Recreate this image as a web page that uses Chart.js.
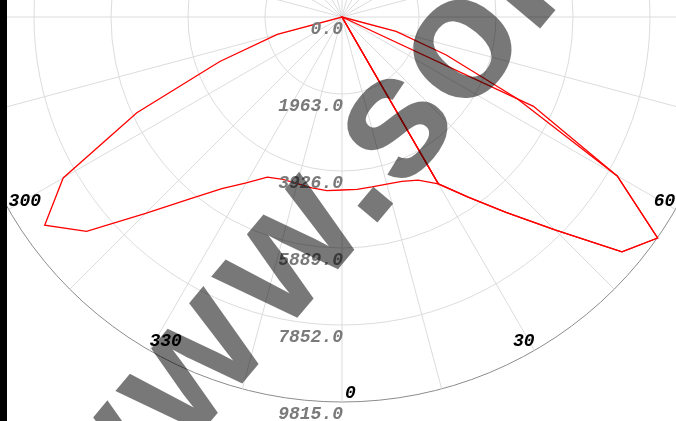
<!DOCTYPE html>
<html>
<head>
<meta charset="utf-8">
<script src="https://cdn.jsdelivr.net/npm/chart.js@4.4.1/dist/chart.umd.min.js"></script>
<style>
html,body{margin:0;padding:0;background:#fff;overflow:hidden;width:676px;height:421px;position:relative;}
#wrap{position:absolute;left:-43px;top:-368px;width:770px;height:830px;}
#edge{position:absolute;left:0;top:0;width:7px;height:421px;background:#000;}
</style>
</head>
<body>
<div id="wrap"><canvas id="c" width="770" height="830"></canvas></div>
<div id="edge"></div>
<script>
// Polar angles (degrees, 0 = straight down, negative = left side / 270..360)
const polarAngles = [-90,-85,-80,-75,-70,-65,-60,-55,-50,-45,-40,-35,-30,-25,-20,-15,-10,-5,0,5,10,15,20,25,30,35,40,45,50,55,60,65,70,75,80,85,90];
// Luminous intensity (cd) per angle
const planeA = [0,0,0,1708,3314,5771,8208,9253,8501,7081,6064,5340,4881,4504,4405,4400,4425,4445,4410,4410,4400,4410,4461,4588,4915,0,0,0,0,0,0,0,0,0,0,0,0];
const planeB = [0,0,0,0,0,0,0,0,0,0,0,0,0,0,0,0,0,0,0,0,0,0,0,0,4915,5608,6505,7678,9317,9822,8101,5386,0,0,0,0,0];
const planeC = [0,0,0,0,0,0,0,0,0,0,0,0,0,0,0,0,0,0,0,0,0,0,0,0,4915,5608,6505,7678,9317,9822,8101,4920,2829,1427,0,0,0];
// Radial tick values and angle tick labels
const ringValues = [0,1963,3926,5889,7852,9815];
const angleTicks = [0,30,60,90,120,150,180,210,240,270,300,330];
const watermarkHead = 'www';
const watermarkTail = '.sol';

const STEP = 5;
const N = 360 / STEP;
// radar index i sits at signed angle -STEP*i (startAngle 180 => index 0 at bottom, going to the left)
const radarLabels = [];
for (let i = 0; i < N; i++) radarLabels.push(String((360 - STEP * i) % 360));
function toRadar(values) {
  const out = [];
  for (let i = 0; i < N; i++) {
    let a = (360 - STEP * i) % 360;
    if (a > 180) a -= 360;
    const k = polarAngles.indexOf(a);
    out.push(k >= 0 ? values[k] : 0);
  }
  return out;
}
function idxOfAngle(a) { return ((360 - a) % 360) / STEP; }

const labelFont = 'italic bold 18px "Liberation Mono", "DejaVu Sans Mono", monospace';

const textPlugin = {
  id: 'polarTexts',
  afterDatasetsDraw(chart) {
    const s = chart.scales.r;
    const ctx = chart.ctx;
    ctx.save();
    ctx.font = labelFont;
    // ring labels
    ctx.fillStyle = '#7a7a7a';
    ctx.textAlign = 'right';
    ctx.textBaseline = 'alphabetic';
    ringValues.forEach(v => {
      const d = s.getDistanceFromCenterForValue(v);
      ctx.fillText(v.toFixed(1), s.xCenter + 1, s.yCenter + d + 17);
    });
    // angle labels
    ctx.fillStyle = '#000';
    angleTicks.forEach(a => {
      const p = s.getPointPosition(idxOfAngle(a), s.drawingArea);
      const signed = a > 180 ? a - 360 : a;
      let x = p.x;
      if (signed > 0 && signed < 180) { ctx.textAlign = 'right'; }
      else { ctx.textAlign = 'left'; if (signed === 0) x += 3; }
      ctx.fillText(String(a), x, p.y - 4);
    });
    ctx.restore();
  },
  afterDraw(chart) {
    const s = chart.scales.r;
    const ctx = chart.ctx;
    ctx.save();
    const fs = 175;
    ctx.font = 'bold ' + fs + 'px "Liberation Sans", Arial, sans-serif';
    ctx.fillStyle = 'rgba(0,0,0,0.53)';
    const dot = ctx.measureText('.').width;
    const ww = ctx.measureText('w').width;
    ctx.translate(s.xCenter + 34, s.yCenter + 188);
    ctx.rotate(-50 * Math.PI / 180);
    ctx.textAlign = 'left';
    ctx.textBaseline = 'alphabetic';
    const base = fs * 0.07;
    ctx.fillText(watermarkTail, -dot / 2, base);
    const gap = 13;
    for (let k = 0; k < watermarkHead.length; k++) {
      ctx.fillText(watermarkHead[watermarkHead.length - 1 - k], -dot / 2 - (k + 1) * (ww + gap) + gap, base);
    }
    ctx.restore();
  }
};

const ds = (data) => ({
  data: toRadar(data),
  borderColor: '#ff0000',
  borderWidth: 1.3,
  pointRadius: 0,
  pointHoverRadius: 0,
  fill: false,
  tension: 0
});

new Chart(document.getElementById('c'), {
  type: 'radar',
  data: {
    labels: radarLabels,
    datasets: [ds(planeA), ds(planeB), ds(planeC)]
  },
  options: {
    responsive: false,
    animation: false,
    layout: { padding: { top: 0, left: 0, right: 0, bottom: 60 } },
    plugins: { legend: { display: false }, tooltip: { enabled: false } },
    scales: {
      r: {
        min: 0,
        max: 9815,
        startAngle: 180,
        ticks: { display: false, stepSize: 1963 },
        pointLabels: { display: false },
        grid: {
          circular: true,
          color: (c) => c.index === ringValues.length - 1 ? '#8c8c8c' : '#dcdcdc',
          lineWidth: 1
        },
        angleLines: {
          display: true,
          color: '#dcdcdc',
          lineWidth: (c) => (c.index % 3 === 0 ? 1 : 0)
        }
      }
    }
  },
  plugins: [textPlugin]
});
</script>
</body>
</html>
